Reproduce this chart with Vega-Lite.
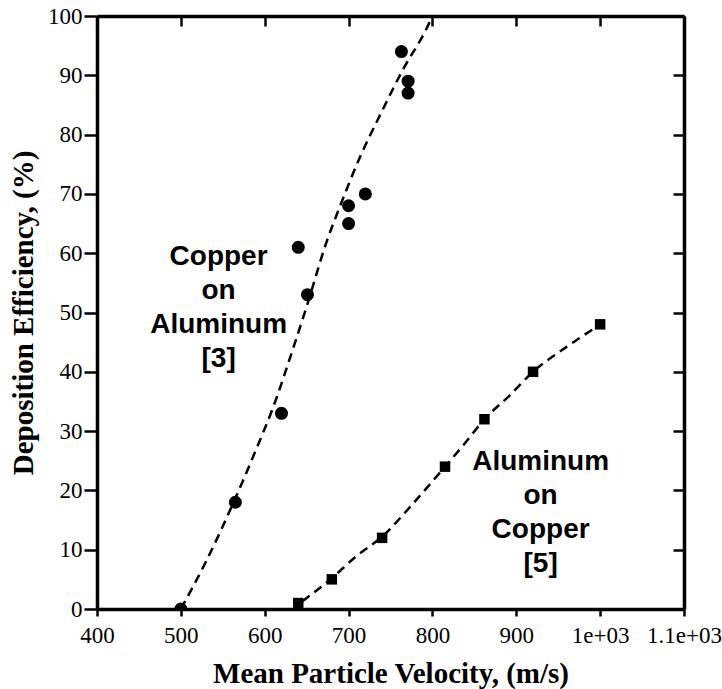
{
  "$schema": "https://vega.github.io/schema/vega-lite/v6.json",
  "width": 587,
  "height": 593,
  "autosize": {"type": "none"},
  "padding": {"left": 97, "top": 16, "right": 38, "bottom": 80},
  "background": "white",
  "config": {
    "view": {"stroke": null},
    "axis": {
      "grid": false,
      "labelColor": "#000000",
      "titleColor": "#000000",
      "labelFont": "Liberation Serif",
      "titleFont": "Liberation Serif",
      "labelFontSize": 23,
      "titleFontSize": 29,
      "titleFontWeight": "bold"
    }
  },
  "datasets": {
    "copperFit": [
      {"v": 500, "de": 0}, {"v": 530, "de": 8}, {"v": 566, "de": 19}, {"v": 590, "de": 27},
      {"v": 610, "de": 34}, {"v": 634, "de": 44}, {"v": 650, "de": 51}, {"v": 674, "de": 62},
      {"v": 690, "de": 68}, {"v": 713, "de": 76}, {"v": 740, "de": 84}, {"v": 765, "de": 91},
      {"v": 792, "de": 97.6}, {"v": 800, "de": 100}
    ],
    "aluminumFit": [
      {"v": 645, "de": 1.3}, {"v": 680, "de": 5.2}, {"v": 710, "de": 9.0}, {"v": 740, "de": 12.2},
      {"v": 777, "de": 17.8}, {"v": 815, "de": 24}, {"v": 839, "de": 28}, {"v": 862, "de": 32},
      {"v": 892, "de": 36}, {"v": 920, "de": 40}, {"v": 960, "de": 44.2}, {"v": 997, "de": 47.7}
    ],
    "copperData": [
      {"v": 500, "de": 0}, {"v": 565, "de": 18}, {"v": 620, "de": 33}, {"v": 640, "de": 61},
      {"v": 651, "de": 53}, {"v": 700, "de": 68}, {"v": 700, "de": 65}, {"v": 720, "de": 70},
      {"v": 763, "de": 94}, {"v": 771, "de": 89}, {"v": 771, "de": 87}
    ],
    "aluminumData": [
      {"v": 640, "de": 1}, {"v": 680, "de": 5}, {"v": 740, "de": 12}, {"v": 815, "de": 24},
      {"v": 862, "de": 32}, {"v": 920, "de": 40}, {"v": 1000, "de": 48}
    ],
    "labels": [
      {"v": 545, "de": 58.0, "text": ["Copper", "on", "Aluminum", "[3]"]},
      {"v": 929, "de": 23.5, "text": ["Aluminum", "on", "Copper", "[5]"]}
    ]
  },
  "layer": [
    {
      "data": {"name": "copperFit"},
      "mark": {"type": "line", "color": "black", "strokeWidth": 2.5, "strokeDash": [9, 6], "interpolate": "monotone", "clip": true},
      "encoding": {
        "x": {
          "field": "v", "type": "quantitative",
          "scale": {"domain": [400, 1100], "nice": false, "zero": false},
          "axis": {
            "orient": "bottom",
            "title": "Mean Particle Velocity, (m/s)",
            "values": [400, 500, 600, 700, 800, 900, 1000, 1100],
            "labelExpr": "datum.value == 1000 ? '1e+03' : (datum.value == 1100 ? '1.1e+03' : datum.label)",
            "domainColor": "#000000", "domainWidth": 3.5, "domainOpacity": 1,
            "tickColor": "#000000", "tickWidth": 2.5, "tickOpacity": 1,
            "tickSize": 7,
            "labelPadding": 8,
            "titlePadding": 12,
            "labelFlush": false,
            "labelOverlap": false
          }
        },
        "y": {
          "field": "de", "type": "quantitative",
          "scale": {"domain": [0, 100], "nice": false},
          "axis": {
            "orient": "left",
            "title": "Deposition Efficiency, (%)",
            "values": [0, 10, 20, 30, 40, 50, 60, 70, 80, 90, 100],
            "domainColor": "#000000", "domainWidth": 3.5, "domainOpacity": 1,
            "tickColor": "#000000", "tickWidth": 2.5, "tickOpacity": 1,
            "tickSize": 13,
            "labelPadding": 2,
            "titlePadding": 9,
            "labelFlush": false,
            "labelOverlap": false
          }
        }
      }
    },
    {
      "data": {"name": "aluminumFit"},
      "mark": {"type": "line", "color": "black", "strokeWidth": 2.5, "strokeDash": [9, 6], "interpolate": "monotone", "clip": true},
      "encoding": {
        "x": {
          "field": "v", "type": "quantitative",
          "axis": {
            "orient": "top", "title": null, "labels": false,
            "values": [400, 500, 600, 700, 800, 900, 1000, 1100],
            "domainColor": "#000000", "domainWidth": 3.5, "domainOpacity": 1,
            "tickColor": "#000000", "tickWidth": 2.5, "tickOpacity": 1,
            "tickSize": -10
          }
        },
        "y": {
          "field": "de", "type": "quantitative",
          "axis": {
            "orient": "right", "title": null, "labels": false,
            "values": [0, 10, 20, 30, 40, 50, 60, 70, 80, 90, 100],
            "domainColor": "#000000", "domainWidth": 3.5, "domainOpacity": 1,
            "tickColor": "#000000", "tickWidth": 2.5, "tickOpacity": 1,
            "tickSize": -11
          }
        }
      }
    },
    {
      "data": {"name": "copperData"},
      "mark": {"type": "point", "shape": "circle", "filled": true, "color": "black", "opacity": 1, "size": 170, "clip": true},
      "encoding": {
        "x": {"field": "v", "type": "quantitative", "axis": null},
        "y": {"field": "de", "type": "quantitative", "axis": null}
      }
    },
    {
      "data": {"name": "aluminumData"},
      "mark": {"type": "point", "shape": "square", "filled": true, "color": "black", "opacity": 1, "size": 110, "clip": true},
      "encoding": {
        "x": {"field": "v", "type": "quantitative", "axis": null},
        "y": {"field": "de", "type": "quantitative", "axis": null}
      }
    },
    {
      "data": {"name": "labels"},
      "mark": {"type": "text", "font": "Liberation Sans", "fontWeight": "bold", "fontSize": 28, "align": "center", "baseline": "alphabetic", "color": "black", "lineHeight": 34},
      "encoding": {
        "x": {"field": "v", "type": "quantitative", "axis": null},
        "y": {"field": "de", "type": "quantitative", "axis": null},
        "text": {"field": "text"}
      }
    }
  ],
  "resolve": {"axis": {"x": "independent", "y": "independent"}}
}
